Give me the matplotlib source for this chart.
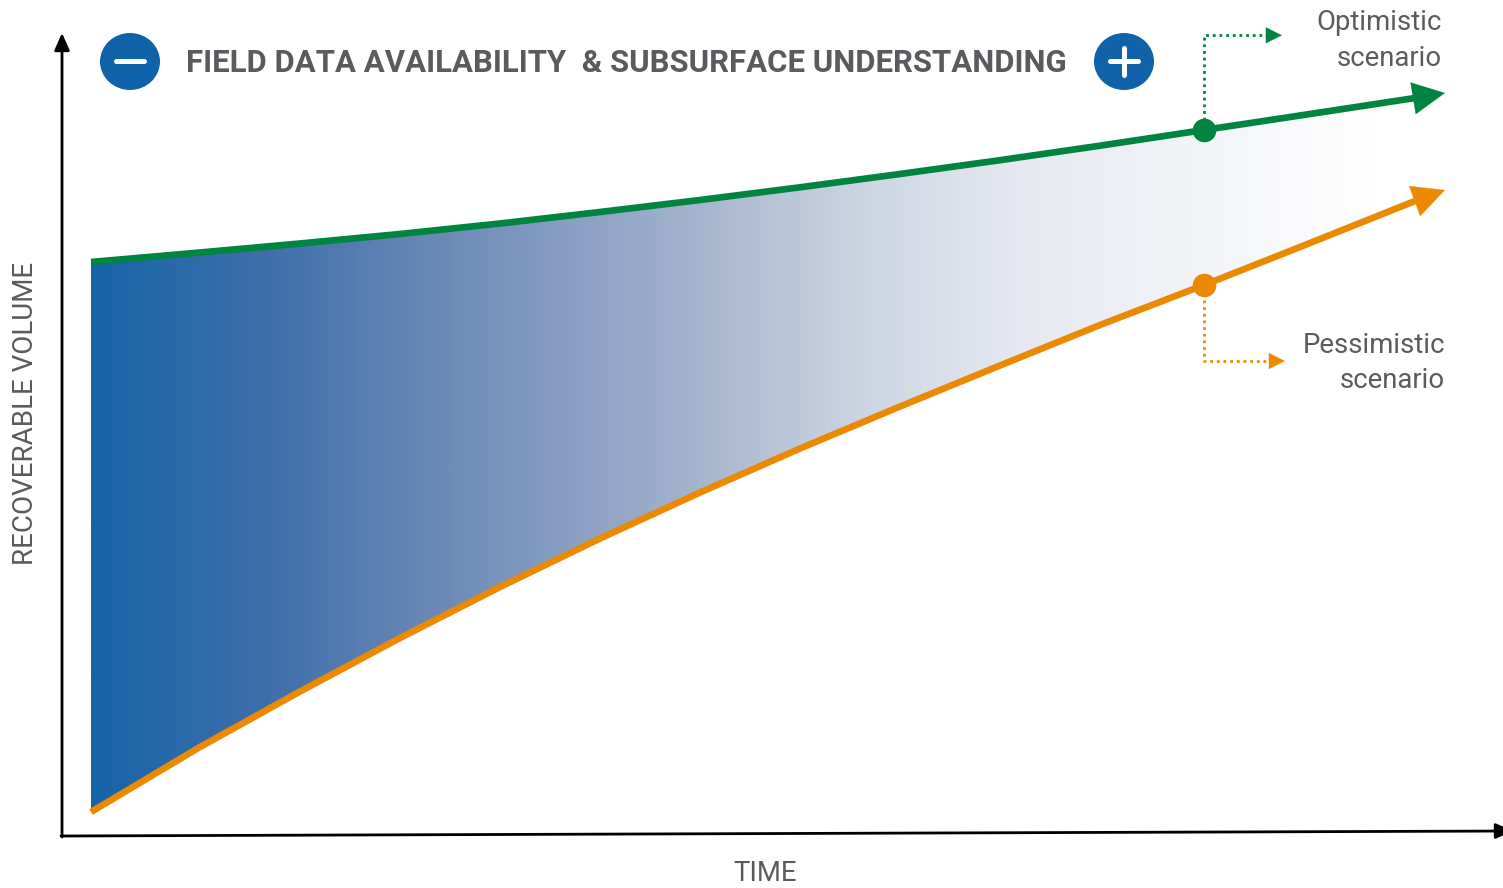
import numpy as np
import matplotlib
matplotlib.use("Agg")
import matplotlib.pyplot as plt
from matplotlib.colors import LinearSegmentedColormap
from matplotlib.patches import Ellipse, Polygon
from matplotlib.transforms import Affine2D

W, H = 1503, 888
GREEN = "#00843f"
ORANGE = "#eb8a00"
BLUE = "#1163a9"
TEXT = "#5a5b5e"
FONT = "Roboto"

# Scenario curves in arbitrary units along each axis
time_units = [29, 138, 238, 338, 438, 538, 638, 738, 838, 938, 1038, 1142, 1238, 1353]
volume_opt = [573, 582.5, 591.5, 601, 611.5, 623, 635, 647.7, 661, 674.8, 689.3, 705, 719.5, 737]
volume_pes = [23, 88, 143.5, 197, 248, 296.5, 342.5, 386.5, 428.5, 469.5, 510, 550, 588, 634]
milestone_time = 1142
milestone_opt = 705
milestone_pes = 550
tip_time = 1383
tip_opt = 742
tip_pes = 645

fig = plt.figure(figsize=(W / 100, H / 100), dpi=100, facecolor="white")
ax = fig.add_axes([62 / W, (H - 835) / H, (W - 62) / W, 835 / H])
ax.axis("off")

# Canvas-based transform for the decorations around the plot
px = Affine2D().scale(1 / W, -1 / H).translate(0, 1) + fig.transFigure


def arrow(start, end, colour, lw, scale, trans, length, width):
    style = f"-|>,head_length={length},head_width={width}"
    ax.annotate("", xy=end, xytext=start, xycoords=trans, textcoords=trans,
                annotation_clip=False, zorder=6,
                arrowprops=dict(arrowstyle=style, color=colour, lw=lw,
                                mutation_scale=scale, shrinkA=0, shrinkB=0))


# Gradient band between the two scenarios
stops = [(0.0, "#1565a8"), (0.13, "#3f6fab"), (0.26, "#6d8ab7"), (0.44, "#a3b2cd"),
         (0.57, "#cdd5e3"), (0.69, "#e6e9f1"), (0.85, "#f6f7fa"), (0.95, "#ffffff"),
         (1.0, "#ffffff")]
cmap = LinearSegmentedColormap.from_list("band", stops)
band = Polygon(np.column_stack([time_units + time_units[::-1], volume_opt + volume_pes[::-1]]),
               closed=True, transform=ax.transData, facecolor="none", edgecolor="none")
ax.add_patch(band)
img = ax.imshow(np.linspace(0, 1, 512)[None, :], extent=[time_units[0], tip_time, 0, 835],
                aspect="auto", cmap=cmap, zorder=1)
img.set_clip_path(band)
ax.set_xlim(0, W - 62)
ax.set_ylim(0, 835)

# Scenario curves and their arrowheads
for values, tip, colour in ((volume_opt, tip_opt, GREEN), (volume_pes, tip_pes, ORANGE)):
    ax.plot(time_units, values, color=colour, lw=4.8, zorder=4, solid_capstyle="butt",
            solid_joinstyle="round", clip_on=False)
    arrow((time_units[-1], values[-1]), (tip_time, tip), colour, 0.2, 23, ax.transData, 1.0, 0.5)

# Milestone markers
ax.plot([milestone_time], [milestone_opt], "o", color=GREEN, ms=17, mew=0, zorder=5)
ax.plot([milestone_time], [milestone_pes], "o", color=ORANGE, ms=17, mew=0, zorder=5)

# Dotted leaders towards the scenario labels
ax.plot([1204, 1204, 1268], [120, 35.3, 35.3], color=GREEN, lw=2.0, ls=(0, (1, 1.4)),
        transform=px, clip_on=False, zorder=3)
ax.plot([1204, 1204, 1271], [300, 361, 361], color=ORANGE, lw=2.0, ls=(0, (1, 1.4)),
        transform=px, clip_on=False, zorder=3)
arrow((1264, 35.3), (1282, 35.3), GREEN, 0.1, 11.5, px, 1.0, 0.5)
arrow((1267, 361), (1285, 361), ORANGE, 0.1, 11.5, px, 1.0, 0.5)

# Axes
arrow((62, 837), (62, 33), "black", 2.0, 11.5, px, 0.9, 0.4)
arrow((61, 836), (1513, 831), "black", 2.0, 11.5, px, 0.9, 0.4)

# Minus and plus badges
for cx in (130, 1124):
    ax.add_patch(Ellipse((cx, 61.5), 60, 57, transform=px, facecolor=BLUE, edgecolor="none",
                         clip_on=False, zorder=3))
ax.plot([116, 144], [61.5, 61.5], color="white", lw=3.6, solid_capstyle="round", transform=px,
        clip_on=False, zorder=4)
ax.plot([1110, 1138], [61.5, 61.5], color="white", lw=3.6, solid_capstyle="round", transform=px,
        clip_on=False, zorder=4)
ax.plot([1124, 1124], [48, 75], color="white", lw=3.6, solid_capstyle="round", transform=px,
        clip_on=False, zorder=4)

# Text
ax.text(186, 63, "FIELD DATA AVAILABILITY  & SUBSURFACE UNDERSTANDING", transform=px,
        fontfamily=FONT, fontweight="bold", fontsize=22.4, color=TEXT, ha="left", va="center")
for x, y, label in ((1442, 23, "Optimistic"), (1442, 58, "scenario"),
                    (1445, 345, "Pessimistic"), (1445, 380, "scenario")):
    ax.text(x, y, label, transform=px, fontfamily=FONT, fontsize=19.8, color=TEXT,
            ha="right", va="center")
ax.text(765, 873, "TIME", transform=px, fontfamily=FONT, fontsize=19.8, color=TEXT,
        ha="center", va="center")
ax.text(26, 413, "RECOVERABLE VOLUME", transform=px, fontfamily=FONT, fontsize=20, color=TEXT,
        ha="center", va="center", rotation=90)

fig.savefig("out.png", dpi=100, facecolor="white")
